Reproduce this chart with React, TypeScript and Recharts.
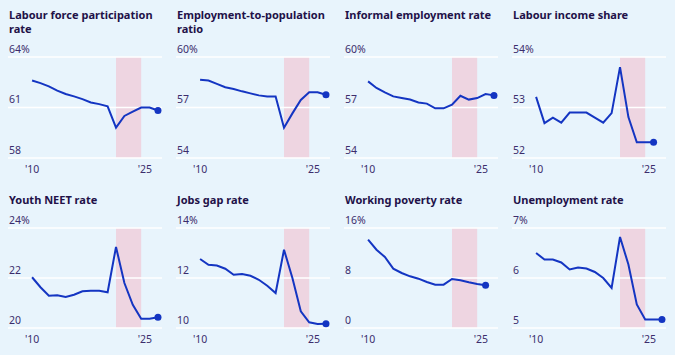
import { Line, LineChart, ReferenceArea, ReferenceLine, XAxis, YAxis } from "recharts";

const years = [2010, 2011, 2012, 2013, 2014, 2015, 2016, 2017, 2018, 2019, 2020, 2021, 2022, 2023, 2024, 2025];

const labourForce = [62.6, 62.45, 62.26, 62.0, 61.8, 61.66, 61.5, 61.3, 61.2, 61.07, 59.8, 60.5, 60.75, 61.0, 61.0, 60.82];
const employmentRatio = [58.65, 58.6, 58.4, 58.2, 58.1, 57.96, 57.84, 57.72, 57.66, 57.66, 55.8, 56.65, 57.45, 57.9, 57.9, 57.76];
const informalRate = [58.55, 58.16, 57.9, 57.66, 57.56, 57.47, 57.3, 57.23, 56.95, 56.95, 57.17, 57.7, 57.47, 57.56, 57.8, 57.72];
const labourIncome = [53.21, 52.69, 52.8, 52.7, 52.9, 52.9, 52.9, 52.8, 52.7, 52.89, 53.8, 52.81, 52.31, 52.31, 52.31];
const youthNeet = [22.03, 21.63, 21.29, 21.31, 21.24, 21.33, 21.47, 21.49, 21.49, 21.43, 23.24, 21.8, 20.93, 20.37, 20.37, 20.43];
const jobsGap = [12.76, 12.53, 12.5, 12.37, 12.13, 12.16, 12.09, 11.93, 11.69, 11.4, 13.13, 12.0, 10.67, 10.23, 10.16, 10.17];
const workingPoverty = [14.13, 12.53, 11.36, 9.49, 8.8, 8.27, 7.89, 7.36, 6.93, 6.93, 7.84, 7.63, 7.31, 7.04, 6.83];
const unemployment = [6.5, 6.37, 6.37, 6.31, 6.17, 6.21, 6.19, 6.12, 6.0, 5.8, 6.82, 6.27, 5.47, 5.17, 5.17, 5.17];

const titles = [
  "Labour force participation rate",
  "Employment-to-population ratio",
  "Informal employment rate",
  "Labour income share",
  "Youth NEET rate",
  "Jobs gap rate",
  "Working poverty rate",
  "Unemployment rate",
];
const seriesList = [labourForce, employmentRatio, informalRate, labourIncome, youthNeet, jobsGap, workingPoverty, unemployment];
const yTicks = [
  [58, 61, 64],
  [54, 57, 60],
  [54, 57, 60],
  [52, 53, 54],
  [20, 22, 24],
  [10, 12, 14],
  [0, 8, 16],
  [5, 6, 7],
];
const xTicks = [2010, 2025];
const xTickLabels = ["'10", "'25"];
const shadeStart = 2020;
const shadeEnd = 2023;

const BG = "#e8f4fc";
const PINK = "#eed5e1";
const BLUE = "#1435c2";
const TITLE = "#221148";
const LABEL = "#3b2d6c";
const FONT = "'Noto Sans', sans-serif";

const PANEL_W = 168;
const rowTitleTop = [8, 192.7];
const rowPlotTop = [57.3, 228.3];
const rowPlotH = [101, 100];

function Panel({ index }: { index: number }) {
  const row = Math.floor(index / 4);
  const col = index % 4;
  const series = seriesList[index];
  const ticks = yTicks[index];
  const data = series.map((v, i) => ({ year: years[i], value: v }));
  const last = data.length - 1;
  const h = rowPlotH[row] + 20 + 24;

  return (
    <>
      <div
        style={{
          position: "absolute",
          left: col * PANEL_W + 9,
          top: rowTitleTop[row],
          width: 155,
          fontFamily: FONT,
          fontWeight: 700,
          fontSize: 11,
          lineHeight: "14px",
          color: TITLE,
        }}
      >
        {titles[index]}
      </div>
      <div style={{ position: "absolute", left: col * PANEL_W, top: rowPlotTop[row] - 20 }}>
        <LineChart width={PANEL_W} height={h} data={data} margin={{ top: 20, right: 6, left: 0, bottom: 0 }}>
          <XAxis
            dataKey="year"
            type="number"
            domain={[2007.13, 2025.48]}
            allowDataOverflow
            ticks={xTicks}
            axisLine={false}
            tickLine={false}
            tickSize={0}
            tickMargin={0}
            height={24}
            tick={(p: any) => {
              const i = xTicks.indexOf(p.payload.value);
              return (
                <text
                  key={p.payload.value}
                  x={p.x}
                  y={p.y + 15}
                  textAnchor={i === xTicks.length - 1 ? "end" : "middle"}
                  fontFamily={FONT}
                  fontSize={10.5}
                  fill={LABEL}
                >
                  {xTickLabels[i]}
                </text>
              );
            }}
          />
          <YAxis
            type="number"
            domain={[ticks[0], ticks[2]]}
            ticks={ticks}
            interval={0}
            width={8}
            axisLine={false}
            tickLine={false}
            tickSize={0}
            tickMargin={0}
            tick={(p: any) => (
              <text
                key={p.payload.value}
                x={9}
                y={p.y - 4.5}
                textAnchor="start"
                fontFamily={FONT}
                fontSize={10.5}
                fill={LABEL}
              >
                {p.payload.value === ticks[2] ? `${p.payload.value}%` : p.payload.value}
              </text>
            )}
          />
          <ReferenceArea x1={shadeStart} x2={shadeEnd} fill={PINK} fillOpacity={1} stroke="none" />
          {ticks.map((t) => (
            <ReferenceLine key={t} y={t} stroke="#ffffff" strokeWidth={1.5} />
          ))}
          <Line
            dataKey="value"
            type="linear"
            stroke={BLUE}
            strokeWidth={2}
            isAnimationActive={false}
            dot={(p: any) =>
              p.index === last ? (
                <circle key={p.index} cx={p.cx} cy={p.cy} r={3.5} fill={BLUE} />
              ) : (
                <g key={p.index} />
              )
            }
            activeDot={false}
          />
        </LineChart>
      </div>
    </>
  );
}

export default function App() {
  return (
    <div
      style={{
        position: "absolute",
        left: 0,
        top: 0,
        width: 675,
        height: 355,
        background: BG,
        overflow: "hidden",
      }}
    >
      {titles.map((_, i) => (
        <Panel key={i} index={i} />
      ))}
    </div>
  );
}
